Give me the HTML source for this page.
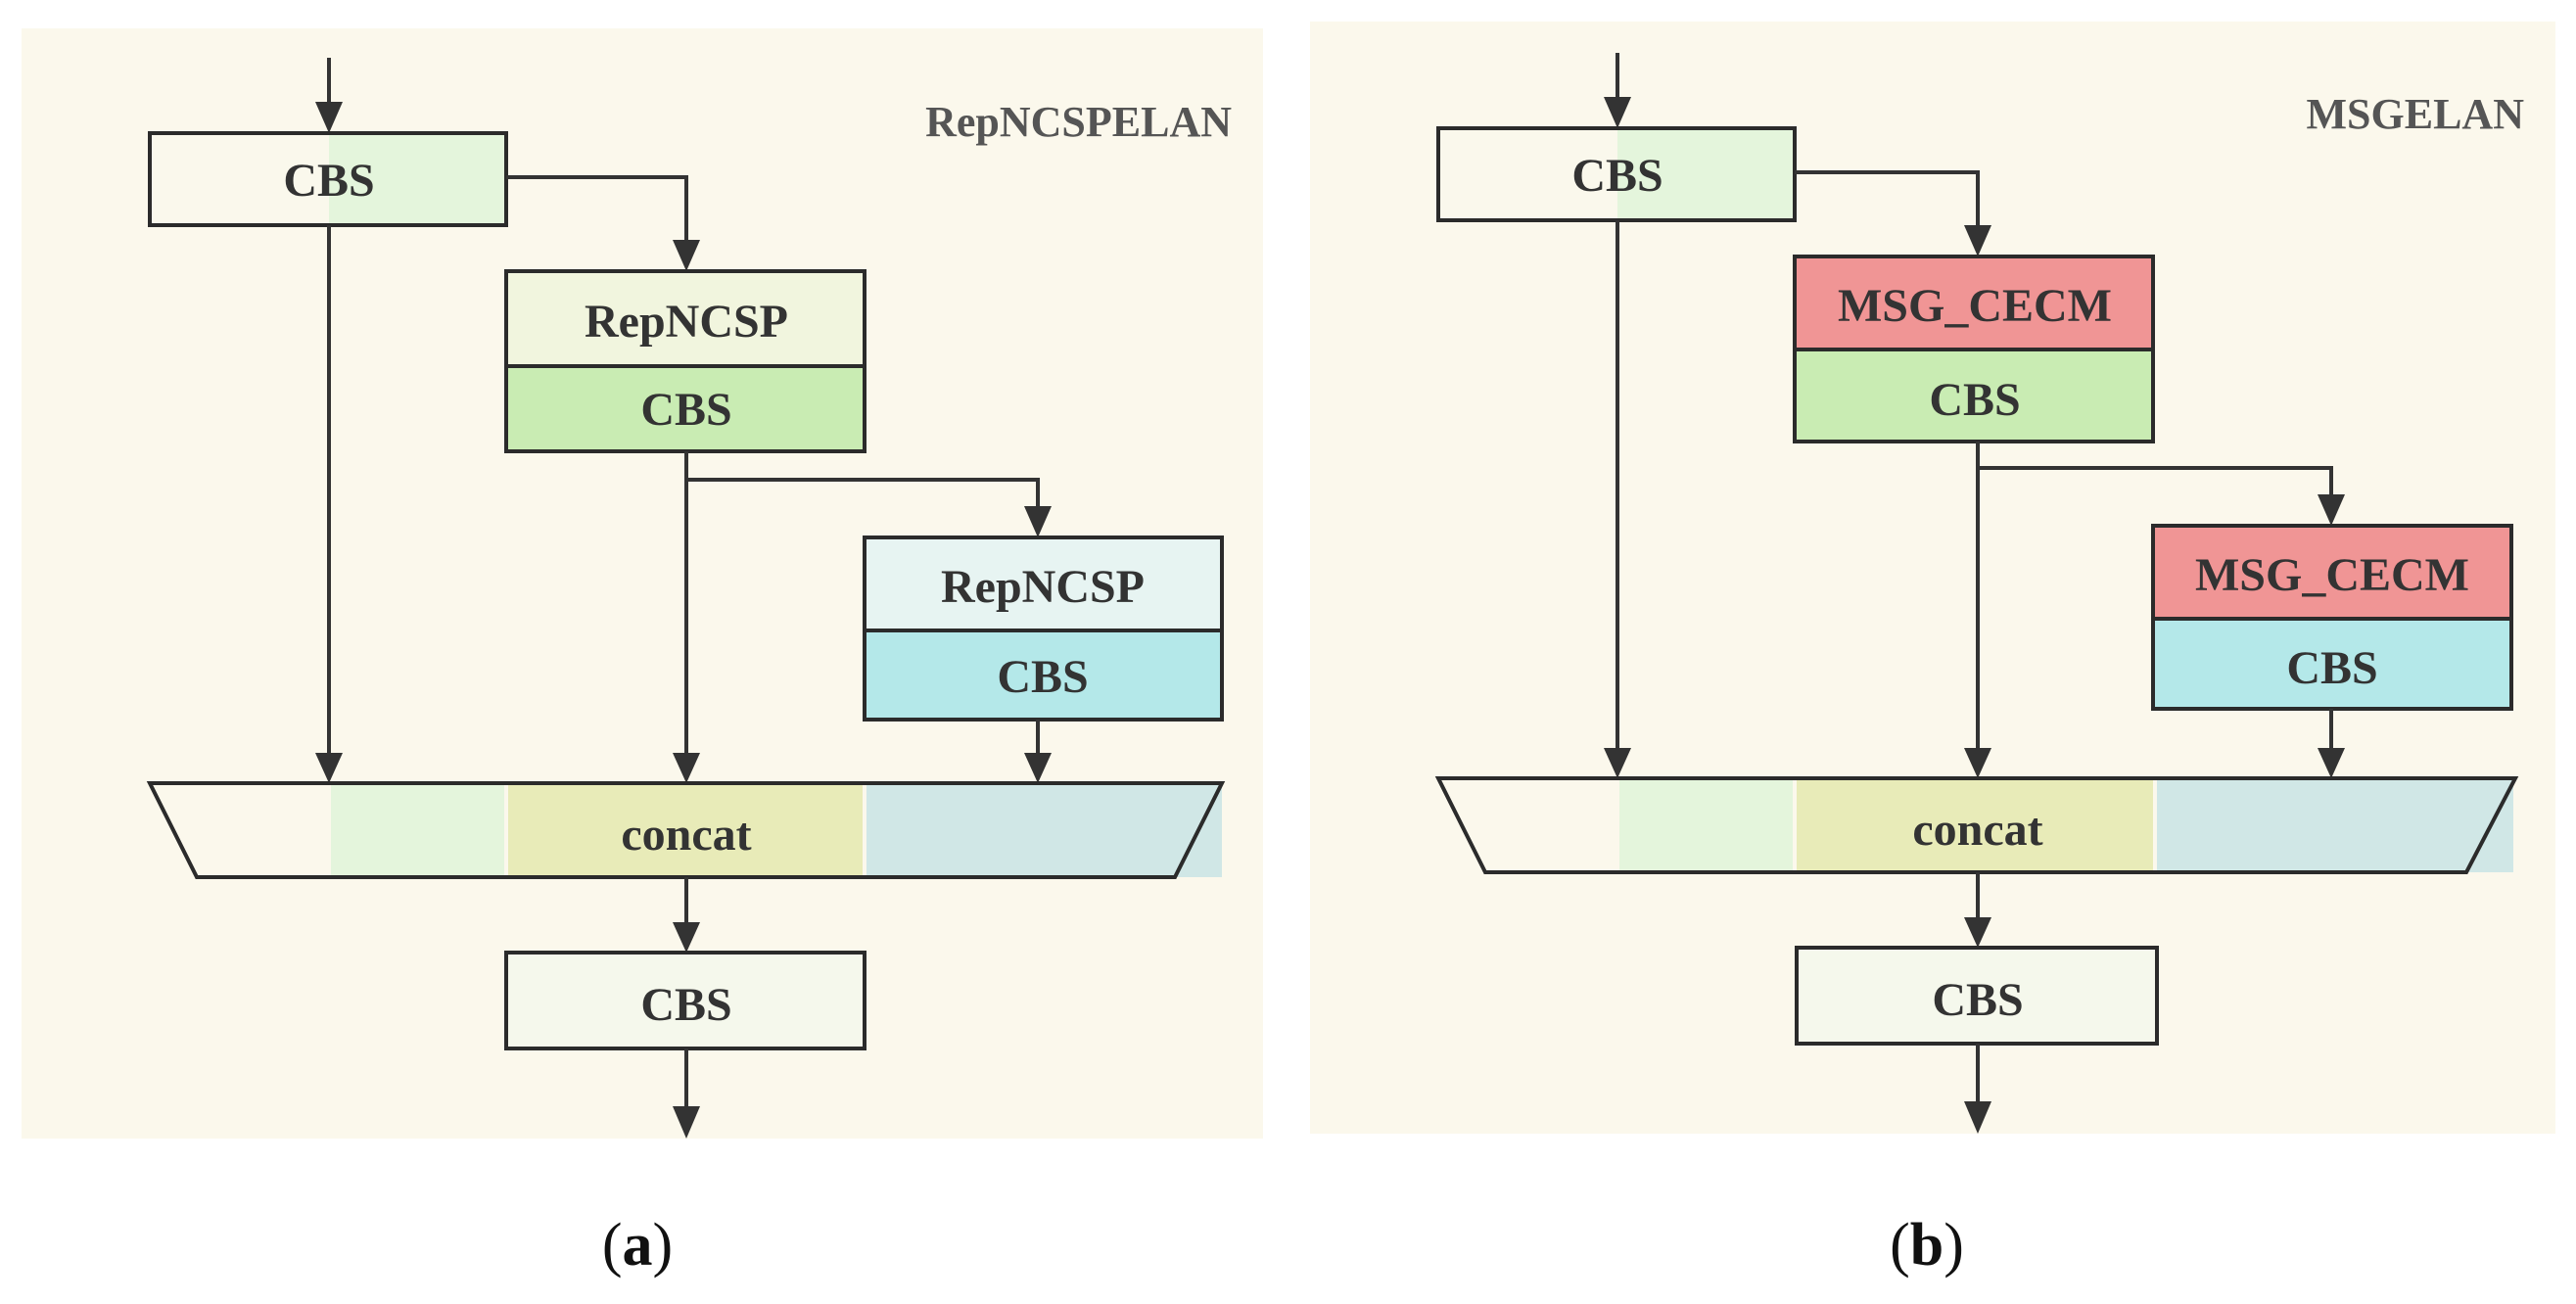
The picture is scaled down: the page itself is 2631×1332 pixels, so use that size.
<!DOCTYPE html>
<html><head><meta charset="utf-8"><style>
html,body{margin:0;padding:0;background:#fff;}
svg{display:block;}
text{font-family:"Liberation Serif",serif;font-weight:bold;fill:#333;}
</style></head><body>
<svg width="2631" height="1332" viewBox="0 0 2631 1332" xmlns="http://www.w3.org/2000/svg">
<g>
<rect x="22" y="29" width="1268" height="1134" fill="#fbf8ec"/>
<line x1="336" y1="59" x2="336" y2="110" stroke="#333" stroke-width="4"/>
<polygon points="322,104 350,104 336,136" fill="#333"/>
<rect x="153" y="136" width="183" height="94" fill="#faf8ec"/>
<rect x="336" y="136" width="181" height="94" fill="#e4f5dc"/>
<rect x="153" y="136" width="364" height="94" fill="none" stroke="#2b2b2b" stroke-width="4"/>
<text x="336" y="200" font-size="48" text-anchor="middle">CBS</text>
<polyline points="517,181 701,181 701,250" fill="none" stroke="#333" stroke-width="4"/>
<polygon points="687,245 715,245 701,277" fill="#333"/>
<rect x="517" y="277" width="366" height="97" fill="#f1f5de"/>
<rect x="517" y="374" width="366" height="87" fill="#c9ecb3"/>
<rect x="517" y="277" width="366" height="184" fill="none" stroke="#2b2b2b" stroke-width="4"/>
<line x1="517" y1="374" x2="883" y2="374" stroke="#2b2b2b" stroke-width="4"/>
<text x="701" y="344" font-size="48" text-anchor="middle">RepNCSP</text>
<text x="701" y="434" font-size="48" text-anchor="middle">CBS</text>
<polyline points="701,490 1060,490 1060,522" fill="none" stroke="#333" stroke-width="4"/>
<polygon points="1046,517 1074,517 1060,549" fill="#333"/>
<rect x="883" y="549" width="365" height="95" fill="#e7f4f2"/>
<rect x="883" y="644" width="365" height="91" fill="#b4e8e9"/>
<rect x="883" y="549" width="365" height="186" fill="none" stroke="#2b2b2b" stroke-width="4"/>
<line x1="883" y1="644" x2="1248" y2="644" stroke="#2b2b2b" stroke-width="4"/>
<text x="1065" y="615" font-size="48" text-anchor="middle">RepNCSP</text>
<text x="1065" y="707" font-size="48" text-anchor="middle">CBS</text>
<line x1="336" y1="230" x2="336" y2="775" stroke="#333" stroke-width="4"/>
<polygon points="322,769 350,769 336,800" fill="#333"/>
<line x1="701" y1="461" x2="701" y2="775" stroke="#333" stroke-width="4"/>
<polygon points="687,769 715,769 701,800" fill="#333"/>
<line x1="1060" y1="735" x2="1060" y2="775" stroke="#333" stroke-width="4"/>
<polygon points="1046,769 1074,769 1060,800" fill="#333"/>
<rect x="153" y="800" width="183" height="96" fill="#fbf8ec"/>
<rect x="338" y="800" width="177" height="96" fill="#e4f5dc"/>
<rect x="519" y="800" width="362" height="96" fill="#e8ebb8"/>
<rect x="885" y="800" width="363" height="96" fill="#d0e7e6"/>
<polygon points="153,800 1248,800 1200,896 201,896" fill="none" stroke="#2b2b2b" stroke-width="4"/>
<text x="701" y="868" font-size="48" text-anchor="middle">concat</text>
<line x1="701" y1="896" x2="701" y2="948" stroke="#333" stroke-width="4"/>
<polygon points="687,942 715,942 701,973" fill="#333"/>
<rect x="517" y="973" width="366" height="98" fill="#f5f8ec" stroke="#2b2b2b" stroke-width="4"/>
<text x="701" y="1042" font-size="48" text-anchor="middle">CBS</text>
<line x1="701" y1="1071" x2="701" y2="1135" stroke="#333" stroke-width="4"/>
<polygon points="687,1130 715,1130 701,1163" fill="#333"/>
</g>
<text x="1258" y="139" font-size="44" text-anchor="end" style="fill:#555">RepNCSPELAN</text>
<text x="651" y="1292" font-size="62" text-anchor="middle" style="font-weight:normal;fill:#111">(<tspan style="font-weight:bold">a</tspan>)</text>

<g transform="translate(1316,-5)">
<rect x="22" y="27" width="1272" height="1136" fill="#fbf8ec"/>
<line x1="336" y1="59" x2="336" y2="110" stroke="#333" stroke-width="4"/>
<polygon points="322,104 350,104 336,136" fill="#333"/>
<rect x="153" y="136" width="183" height="94" fill="#faf8ec"/>
<rect x="336" y="136" width="181" height="94" fill="#e4f5dc"/>
<rect x="153" y="136" width="364" height="94" fill="none" stroke="#2b2b2b" stroke-width="4"/>
<text x="336" y="200" font-size="48" text-anchor="middle">CBS</text>
<polyline points="517,181 704,181 704,240" fill="none" stroke="#333" stroke-width="4"/>
<polygon points="690,235 718,235 704,267" fill="#333"/>
<rect x="517" y="267" width="366" height="95" fill="#f09595"/>
<rect x="517" y="362" width="366" height="94" fill="#c9ecb3"/>
<rect x="517" y="267" width="366" height="189" fill="none" stroke="#2b2b2b" stroke-width="4"/>
<line x1="517" y1="362" x2="883" y2="362" stroke="#2b2b2b" stroke-width="4"/>
<text x="701" y="333" font-size="48" text-anchor="middle">MSG_CECM</text>
<text x="701" y="429" font-size="48" text-anchor="middle">CBS</text>
<polyline points="704,483 1065,483 1065,515" fill="none" stroke="#333" stroke-width="4"/>
<polygon points="1051,510 1079,510 1065,542" fill="#333"/>
<rect x="883" y="542" width="366" height="95" fill="#f09595"/>
<rect x="883" y="637" width="366" height="92" fill="#b4e8e9"/>
<rect x="883" y="542" width="366" height="187" fill="none" stroke="#2b2b2b" stroke-width="4"/>
<line x1="883" y1="637" x2="1249" y2="637" stroke="#2b2b2b" stroke-width="4"/>
<text x="1066" y="608" font-size="48" text-anchor="middle">MSG_CECM</text>
<text x="1066" y="703" font-size="48" text-anchor="middle">CBS</text>
<line x1="336" y1="230" x2="336" y2="775" stroke="#333" stroke-width="4"/>
<polygon points="322,769 350,769 336,800" fill="#333"/>
<line x1="704" y1="456" x2="704" y2="775" stroke="#333" stroke-width="4"/>
<polygon points="690,769 718,769 704,800" fill="#333"/>
<line x1="1065" y1="729" x2="1065" y2="775" stroke="#333" stroke-width="4"/>
<polygon points="1051,769 1079,769 1065,800" fill="#333"/>
<rect x="153" y="800" width="183" height="96" fill="#fbf8ec"/>
<rect x="338" y="800" width="177" height="96" fill="#e4f5dc"/>
<rect x="519" y="800" width="364" height="96" fill="#e8ebb8"/>
<rect x="887" y="800" width="364" height="96" fill="#d0e7e6"/>
<polygon points="153,800 1253,800 1203,896 201,896" fill="none" stroke="#2b2b2b" stroke-width="4"/>
<text x="704" y="868" font-size="48" text-anchor="middle">concat</text>
<line x1="704" y1="896" x2="704" y2="948" stroke="#333" stroke-width="4"/>
<polygon points="690,942 718,942 704,973" fill="#333"/>
<rect x="519" y="973" width="368" height="98" fill="#f5f8ec" stroke="#2b2b2b" stroke-width="4"/>
<text x="704" y="1042" font-size="48" text-anchor="middle">CBS</text>
<line x1="704" y1="1071" x2="704" y2="1135" stroke="#333" stroke-width="4"/>
<polygon points="690,1130 718,1130 704,1163" fill="#333"/>
<text x="1262" y="136" font-size="44" text-anchor="end" style="fill:#555">MSGELAN</text>
</g>
<text x="1968" y="1292" font-size="62" text-anchor="middle" style="font-weight:normal;fill:#111">(<tspan style="font-weight:bold">b</tspan>)</text>
</svg>
</body></html>
